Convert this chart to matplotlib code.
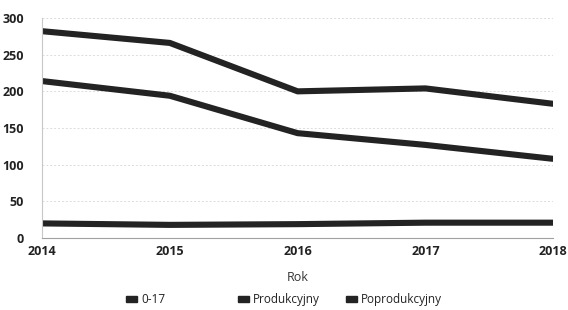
import matplotlib
matplotlib.use("Agg")
import matplotlib.pyplot as plt
from matplotlib.patches import Patch

# Data
years = [2014, 2015, 2016, 2017, 2018]
series_names = ["0-17", "Produkcyjny", "Poprodukcyjny"]
vals_0_17 = [214, 194, 143, 127, 108]
vals_prod = [282, 266, 200, 204, 183]
vals_poprod = [20, 18, 19, 21, 21]
y_ticks = [0, 50, 100, 150, 200, 250, 300]

plt.rcParams["font.family"] = ["Open Sans", "DejaVu Sans"]

fig = plt.figure(figsize=(5.68, 3.10), dpi=100)
ax = fig.add_axes([0.074, 0.232, 0.900, 0.710])

line_color = "#232323"
for vals in (vals_0_17, vals_prod, vals_poprod):
    ax.plot(years, vals, color=line_color, linewidth=4.4, solid_capstyle="butt")

ax.set_xlim(2014, 2018)
ax.set_ylim(0, 300)
ax.set_xticks(years)
ax.set_xticklabels([str(y) for y in years], fontsize=9, fontweight="bold", color="#222")
ax.set_yticks(y_ticks)
ax.set_yticklabels([str(t) for t in y_ticks], fontsize=9, fontweight="bold", color="#222")
ax.tick_params(axis="x", length=0, pad=5)
ax.tick_params(axis="y", length=0, pad=13)

ax.grid(axis="y", color="#dcdcdc", linestyle=(0, (2, 2)), linewidth=0.7)
ax.set_axisbelow(True)
for s in ("top", "right"):
    ax.spines[s].set_visible(False)
ax.spines["left"].set_color("#c8c8c8")
ax.spines["bottom"].set_color("#a0a0a0")
ax.spines["left"].set_linewidth(0.8)
ax.spines["bottom"].set_linewidth(0.8)

ax.set_xlabel("Rok", fontsize=9, color="#333", labelpad=9)

# legend entries placed individually to match the uneven spacing
legend_x = [0.222, 0.419, 0.609]
for name, lx in zip(series_names, legend_x):
    leg = fig.legend(handles=[Patch(facecolor=line_color, edgecolor=line_color, label=name)],
                     loc="center left", bbox_to_anchor=(lx, 0.033), frameon=False,
                     fontsize=8.5, handlelength=0.9, handleheight=0.5,
                     handletextpad=0.4, borderpad=0, borderaxespad=0, labelcolor="#222")

fig.savefig("out.png", dpi=100)
